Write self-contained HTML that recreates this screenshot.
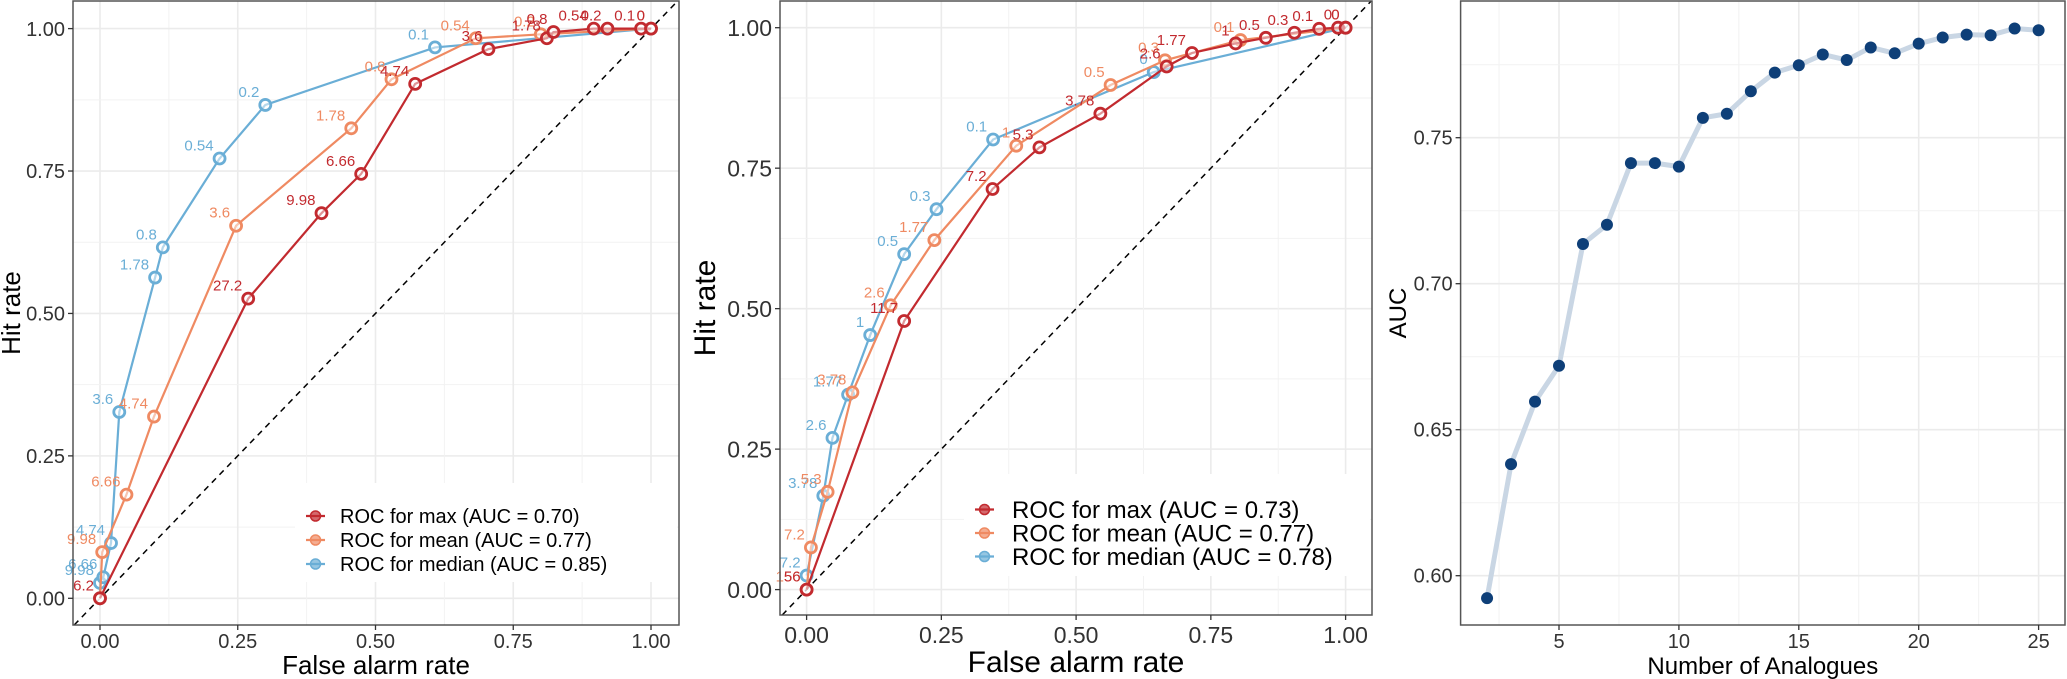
<!DOCTYPE html>
<html><head><meta charset="utf-8">
<style>
html,body{margin:0;padding:0;background:#fff;}
svg{display:block;font-family:"Liberation Sans",Arial,sans-serif;}
</style></head>
<body>
<svg id="fig" width="2067" height="679" viewBox="0 0 2067 679" xmlns="http://www.w3.org/2000/svg"></svg>
<script>
// ---------- Panel 1 data ----------
const p1MaxX = [0, 0.269, 0.402, 0.474, 0.572, 0.705, 0.811, 0.823, 0.896, 0.921, 0.982, 1];
const p1MaxY = [0, 0.526, 0.676, 0.745, 0.903, 0.964, 0.983, 0.994, 1, 1, 1, 1];
const p1MaxL = ["6.2","27.2","9.98","6.66","4.74","3.6","1.78","0.8","0.54","0.2","0.1","0"];
const p1MeanX = [0, 0.004, 0.048, 0.098, 0.247, 0.456, 0.529, 0.682, 0.80, 1];
const p1MeanY = [0, 0.081, 0.182, 0.319, 0.654, 0.825, 0.911, 0.983, 0.99, 1];
const p1MeanL = ["", "9.98","6.66","4.74","3.6","1.78","0.8","0.54","0.2","0"];
const p1MedX = [0, 0.000, 0.006, 0.020, 0.035, 0.100, 0.114, 0.217, 0.300, 0.608, 1];
const p1MedY = [0, 0.027, 0.037, 0.097, 0.327, 0.563, 0.616, 0.772, 0.866, 0.967, 1];
const p1MedL = ["", "9.98","6.66","4.74","3.6","1.78","0.8","0.54","0.2","0.1",""];
const p1Legend = ["ROC for max (AUC = 0.70)","ROC for mean (AUC = 0.77)","ROC for median (AUC = 0.85)"];
// ---------- Panel 2 data ----------
const p2MaxX = [0, 0.181, 0.345, 0.432, 0.545, 0.668, 0.715, 0.796, 0.852, 0.905, 0.951, 0.986, 1];
const p2MaxY = [0, 0.478, 0.713, 0.787, 0.847, 0.931, 0.955, 0.972, 0.982, 0.991, 0.998, 1, 1];
const p2MaxL = ["56","11.7","7.2","5.3","3.78","2.6","1.77","1","0.5","0.3","0.1","0","0"];
const p2MeanX = [0, 0.008, 0.039, 0.085, 0.156, 0.237, 0.389, 0.564, 0.665, 0.805, 1];
const p2MeanY = [0, 0.075, 0.174, 0.351, 0.506, 0.622, 0.790, 0.898, 0.942, 0.978, 1];
const p2MeanL = ["156","7.2","5.3","3.78","2.6","1.77","1","0.5","0.3","0.1","0"];
const p2MedX = [0, 0.031, 0.048, 0.077, 0.118, 0.181, 0.241, 0.346, 0.644, 1];
const p2MedY = [0.025, 0.167, 0.270, 0.347, 0.453, 0.597, 0.677, 0.801, 0.921, 1];
const p2MedL = ["7.2","3.78","2.6","1.77","1","0.5","0.3","0.1","0",""];
const p2Legend = ["ROC for max (AUC = 0.73)","ROC for mean (AUC = 0.77)","ROC for median (AUC = 0.78)"];
// ---------- Panel 3 data ----------
const p3N = [2,3,4,5,6,7,8,9,10,11,12,13,14,15,16,17,18,19,20,21,22,23,24,25];
const p3AUC = [0.5923,0.6382,0.6596,0.6719,0.7136,0.7202,0.7413,0.7413,0.7401,0.7568,0.7582,0.7659,0.7723,0.7748,0.7785,0.7766,0.7809,0.7789,0.7822,0.7843,0.7853,0.7851,0.7874,0.7868];
const p3XTicks = [5,10,15,20,25];
const p3YTicks = [0.60,0.65,0.70,0.75];
const rocTicks = [0,0.25,0.5,0.75,1];
const rocTickLabels = ["0.00","0.25","0.50","0.75","1.00"];

const NS="http://www.w3.org/2000/svg";
const svg=document.getElementById('fig');
function mk(tag,attrs,parent){const e=document.createElementNS(NS,tag);for(const k in attrs)e.setAttribute(k,attrs[k]);(parent||svg).appendChild(e);return e;}
const RED="#c22a2f",ORG="#ef8a62",BLU="#6aaed6";

function rocPanel(cfg){
  const g=mk('g',{});
  
  
  const {L,R,T,B,x0,x1,y0,y1}=cfg;
  const sx=v=>x0+(x1-x0)*v, sy=v=>y0+(y1-y0)*v;
  const xmin=(L-x0)/(x1-x0), xmax=(R-x0)/(x1-x0);
  mk('rect',{x:L,y:T,width:R-L,height:B-T,fill:'#fff'},g);
  // grid
  for(let i=0;i<rocTicks.length;i++){
    const v=rocTicks[i];
    const gx=mk('line',{x1:sx(v),x2:sx(v),y1:T,y2:B,stroke:'#ebebeb','stroke-width':1.6},g);
    
    const gy=mk('line',{x1:L,x2:R,y1:sy(v),y2:sy(v),stroke:'#ebebeb','stroke-width':1.6},g);
    
    if(i<rocTicks.length-1){const m=(v+rocTicks[i+1])/2;
      mk('line',{x1:sx(m),x2:sx(m),y1:T,y2:B,stroke:'#f2f2f2','stroke-width':1},g);
      mk('line',{x1:L,x2:R,y1:sy(m),y2:sy(m),stroke:'#f2f2f2','stroke-width':1},g);}
  }
  // diagonal
  const ymin=(B-y0)/(y1-y0), ymax=(T-y0)/(y1-y0);
  const a=Math.max(xmin,ymin), b=Math.min(xmax,ymax);
  const d=mk('line',{x1:sx(a),y1:sy(a),x2:sx(b),y2:sy(b),stroke:'#000','stroke-width':1.5,'stroke-dasharray':'6,5'},g);
  
  // series
  const series=[[cfg.medX,cfg.medY,cfg.medL,BLU,'median'],[cfg.meanX,cfg.meanY,cfg.meanL,ORG,'mean'],[cfg.maxX,cfg.maxY,cfg.maxL,RED,'max']];
  series.forEach(([X,Y,Lb,col,nm])=>{
    const pts=X.map((v,i)=>sx(v)+','+sy(Y[i])).join(' ');
    const pl=mk('polyline',{points:pts,fill:'none',stroke:col,'stroke-width':2.2},g);
    
    X.forEach((v,i)=>{
      const c=mk('circle',{cx:sx(v),cy:sy(Y[i]),r:5.5,fill:'#fff','fill-opacity':0.5,stroke:col,'stroke-width':2.8},g);
      
      if(Lb[i]){const t=mk('text',{x:sx(v)-6,y:sy(Y[i])-8,fill:col,'font-size':cfg.lblFont,'text-anchor':'end'},g);
        t.textContent=Lb[i];}
    });
  });
  mk('rect',{x:L,y:T,width:R-L,height:B-T,fill:'none',stroke:'#555','stroke-width':1.5},g);
  // ticks
  rocTicks.forEach((v,i)=>{
    mk('line',{x1:sx(v),x2:sx(v),y1:B,y2:B+5,stroke:'#333','stroke-width':1.3},g);
    mk('line',{x1:L-5,x2:L,y1:sy(v),y2:sy(v),stroke:'#333','stroke-width':1.3},g);
    const tx=mk('text',{x:sx(v),y:cfg.xLblY,'font-size':cfg.tickFont,'text-anchor':'middle',fill:'#333'},g);
    tx.textContent=rocTickLabels[i];
    const ty=mk('text',{x:L-8,y:sy(v)+cfg.tickFont*0.36,'font-size':cfg.tickFont,'text-anchor':'end',fill:'#333'},g);
    ty.textContent=rocTickLabels[i];
  });
  const xt=mk('text',{x:(L+R)/2,y:cfg.xTitleY,'font-size':cfg.titleFont,'text-anchor':'middle',fill:'#000'},g);
  xt.textContent='False alarm rate';
  const yt=mk('text',{x:0,y:0,'font-size':cfg.titleFont,'text-anchor':'middle',fill:'#000',transform:`translate(${cfg.yTitleX},${(T+B)/2}) rotate(-90)`},g);
  yt.textContent='Hit rate';
  // legend
  const lg=mk('g',{},g);
  
  mk('rect',{x:cfg.lgX,y:cfg.lgY,width:R-cfg.lgX-2,height:cfg.lgH,fill:'#fff'},lg);
  [RED,ORG,BLU].forEach((col,i)=>{
    const y=cfg.lgY0+i*cfg.lgStep;
    mk('line',{x1:cfg.keyX,x2:cfg.keyX+19,y1:y,y2:y,stroke:col,'stroke-width':2.2},lg);
    mk('circle',{cx:cfg.keyX+9.5,cy:y,r:5,fill:col,'fill-opacity':0.7,stroke:col,'stroke-width':1.5},lg);
    const t=mk('text',{x:cfg.txtX,y:y+cfg.lgFont*0.36,'font-size':cfg.lgFont,fill:'#000'},lg);
    t.textContent=cfg.legend[i];
  });
}

rocPanel({name:'roc-panel-1',L:73,R:679,T:1,B:625,x0:100,x1:651,y0:598.3,y1:28.6,
  maxX:p1MaxX,maxY:p1MaxY,maxL:p1MaxL,meanX:p1MeanX,meanY:p1MeanY,meanL:p1MeanL,medX:p1MedX,medY:p1MedY,medL:p1MedL,
  legend:p1Legend,lblFont:15,tickFont:20,titleFont:26,xLblY:648,xTitleY:674,yTitleX:20,
  lgX:295,lgY:483,lgH:99,lgY0:516,lgStep:24,keyX:306,txtX:340,lgFont:20});
rocPanel({name:'roc-panel-2',L:780,R:1372,T:1,B:615,x0:806.6,x1:1345.6,y0:589.6,y1:27.7,
  maxX:p2MaxX,maxY:p2MaxY,maxL:p2MaxL,meanX:p2MeanX,meanY:p2MeanY,meanL:p2MeanL,medX:p2MedX,medY:p2MedY,medL:p2MedL,
  legend:p2Legend,lblFont:15,tickFont:23,titleFont:30,xLblY:643,xTitleY:672,yTitleX:715,
  lgX:964,lgY:474,lgH:102,lgY0:509.5,lgStep:23.5,keyX:975,txtX:1012,lgFont:24});

// ---------- Panel 3 ----------
(function(){
  const g=mk('g',{});
  
  const L=1460.6,R=2065,T=1,B=625;
  const sx=v=>1559+(v-5)*23.98, sy=v=>137.7-(v-0.75)*2920;
  mk('rect',{x:L,y:T,width:R-L,height:B-T,fill:'#fff'},g);
  p3XTicks.forEach(v=>{
    const l=mk('line',{x1:sx(v),x2:sx(v),y1:T,y2:B,stroke:'#ebebeb','stroke-width':1.6},g);
    
    mk('line',{x1:sx(v-2.5),x2:sx(v-2.5),y1:T,y2:B,stroke:'#f2f2f2','stroke-width':1},g);
  });
  p3YTicks.forEach(v=>{
    const l=mk('line',{x1:L,x2:R,y1:sy(v),y2:sy(v),stroke:'#ebebeb','stroke-width':1.6},g);
    
    mk('line',{x1:L,x2:R,y1:sy(v+0.025),y2:sy(v+0.025),stroke:'#f2f2f2','stroke-width':1},g);
  });
  const pl=mk('polyline',{points:p3N.map((n,i)=>sx(n)+','+sy(p3AUC[i])).join(' '),fill:'none',stroke:'#c9d6e4','stroke-width':5,'stroke-linejoin':'round'},g);
  
  p3N.forEach((n,i)=>{
    const c=mk('circle',{cx:sx(n),cy:sy(p3AUC[i]),r:6,fill:'#0e3f78'},g);
    
  });
  mk('rect',{x:L,y:T,width:R-L,height:B-T,fill:'none',stroke:'#555','stroke-width':1.5},g);
  p3XTicks.forEach(v=>{
    mk('line',{x1:sx(v),x2:sx(v),y1:B,y2:B+5,stroke:'#333','stroke-width':1.3},g);
    const t=mk('text',{x:sx(v),y:648,'font-size':20,'text-anchor':'middle',fill:'#333'},g);
    t.textContent=String(v);
  });
  p3YTicks.forEach(v=>{
    mk('line',{x1:L-5,x2:L,y1:sy(v),y2:sy(v),stroke:'#333','stroke-width':1.3},g);
    const t=mk('text',{x:L-8,y:sy(v)+7,'font-size':20,'text-anchor':'end',fill:'#333'},g);
    t.textContent=v.toFixed(2);
  });
  const xt=mk('text',{x:(L+R)/2,y:674,'font-size':24,'text-anchor':'middle',fill:'#000'},g);
  xt.textContent='Number of Analogues';
  const yt=mk('text',{x:0,y:0,'font-size':24,'text-anchor':'middle',fill:'#000',transform:`translate(1406,${(T+B)/2}) rotate(-90)`},g);
  yt.textContent='AUC';
})();
</script>
</body></html>
